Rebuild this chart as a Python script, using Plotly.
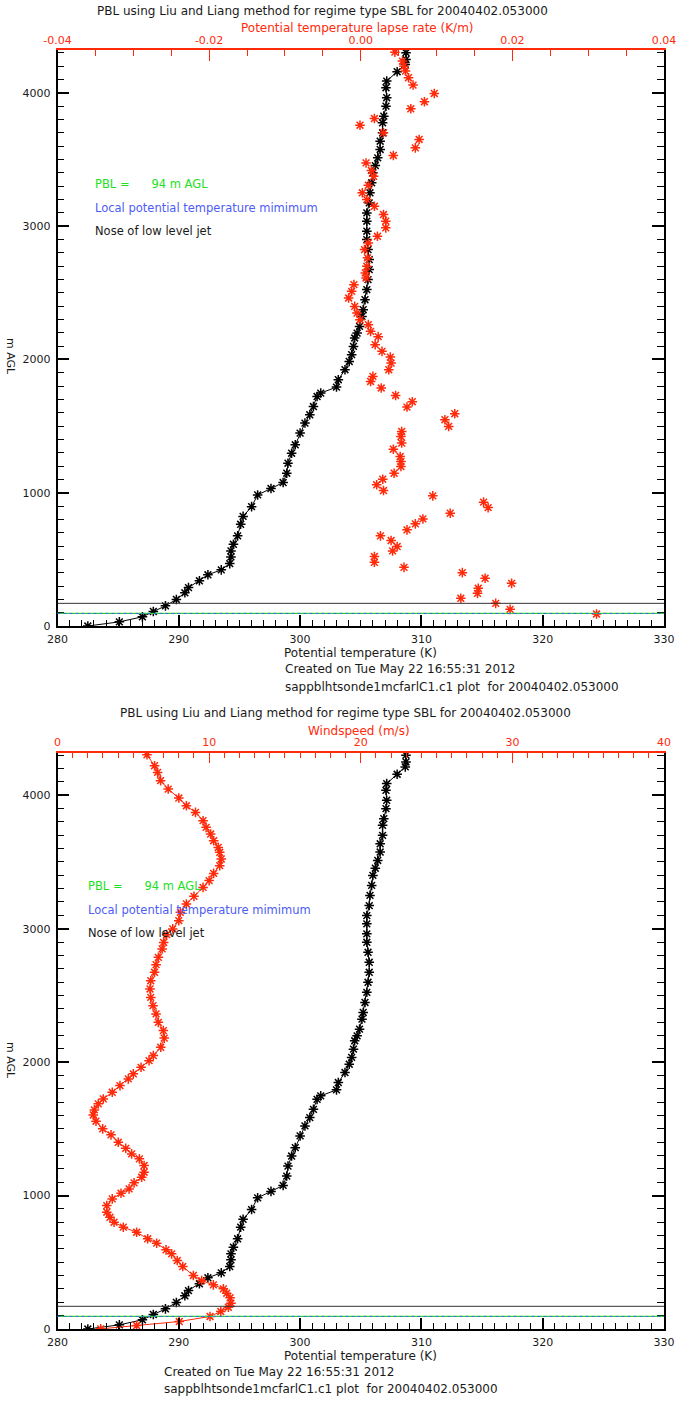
import plotly.graph_objects as go

# ---- Sounding profile: potential temperature (K) vs height (m AGL) ----
height_m = [0, 31, 69, 109, 151, 199, 249, 288, 339, 384, 421, 468, 518, 563, 613,
            676, 763, 822, 895, 983, 1031, 1076, 1146, 1221, 1296, 1359, 1447, 1522,
            1584, 1646, 1721, 1747, 1792, 1847, 1922, 1984, 2035, 2097, 2160, 2197,
            2247, 2322, 2372, 2447, 2523, 2598, 2673, 2748, 2823, 2898, 2961, 3036,
            3098, 3173, 3249, 3324, 3399, 3453, 3511, 3574, 3636, 3699, 3774, 3824,
            3899, 3962, 4037, 4087, 4157, 4212, 4249, 4300]
theta_k = [282.5, 285.1, 287.0, 287.9, 288.9, 289.8, 290.5, 290.8, 291.7, 292.4, 293.5,
           294.2, 294.3, 294.3, 294.5, 294.85, 295.1, 295.3, 296.0, 296.5, 297.6, 298.6,
           298.9, 299.0, 299.3, 299.6, 300.0, 300.4, 300.8, 301.1, 301.4, 301.7, 303.0,
           303.15, 303.7, 304.05, 304.25, 304.4, 304.5, 304.7, 304.9, 305.1, 305.2,
           305.35, 305.5, 305.6, 305.7, 305.7, 305.6, 305.5, 305.5, 305.5, 305.5, 305.7,
           305.76, 305.9, 306.0, 306.2, 306.4, 306.6, 306.6, 306.8, 306.8, 306.9, 307.08,
           307.14, 307.08, 307.14, 308.0, 308.67, 308.73, 308.73]

# ---- Potential temperature lapse rate (K/m) ----
lapse_height_m = [4304, 4237, 4199, 4162, 4112, 4057, 3994, 3932, 3879, 3806, 3756, 3699,
                  3649, 3586, 3529, 3473, 3416, 3373, 3306, 3249, 3198, 3148, 3086, 3036,
                  2986, 2923, 2873, 2823, 2761, 2698, 2648, 2610, 2560, 2510, 2460, 2397,
                  2347, 2297, 2260, 2210, 2170, 2110, 2060, 2017, 1972, 1922, 1872, 1834,
                  1785, 1729, 1682, 1642, 1592, 1547, 1497, 1459, 1421, 1372, 1326, 1271,
                  1233, 1196, 1146, 1101, 1059, 1016, 976, 929, 888, 846, 803, 766, 721,
                  676, 641, 596, 563, 521, 478, 440, 400, 358, 320, 283, 245, 208, 170,
                  125, 90]
lapse_rate = [0.0045, 0.0055, 0.0057, 0.0059, 0.0063, 0.0069, 0.0097, 0.0084, 0.0066,
              0.0018, -0.0001, 0.0030, 0.0077, 0.0072, 0.0043, 0.0007, 0.0014, 0.0017,
              0.0010, 0.0002, 0.0008, 0.0018, 0.0030, 0.0033, 0.0033, 0.0022, 0.0010,
              0.0005, 0.0009, 0.0008, 0.0006, 0.0007, -0.0009, -0.0012, -0.0016, -0.0008,
              -0.0005, -0.0001, 0.0010, 0.0013, 0.0023, 0.0019, 0.0028, 0.0039, 0.0040,
              0.0037, 0.0016, 0.0013, 0.0027, 0.0046, 0.0068, 0.0061, 0.0124, 0.0111,
              0.0116, 0.0054, 0.0053, 0.0054, 0.0043, 0.0052, 0.0053, 0.0053, 0.0044,
              0.0029, 0.0021, 0.0030, 0.0095, 0.0162, 0.0168, 0.0118, 0.0082, 0.0072,
              0.0061, 0.0026, 0.0040, 0.0048, 0.0042, 0.0018, 0.0018, 0.0057, 0.0134,
              0.0164, 0.0199, 0.0155, 0.0154, 0.0132, 0.0178, 0.0197, 0.0311]

# ---- Wind speed (m/s) ----
wind_height_m = [4303, 4221, 4171, 4109, 4046, 3979, 3921, 3871, 3809, 3759, 3709, 3659,
                 3609, 3572, 3522, 3472, 3414, 3360, 3309, 3242, 3185, 3122, 3060, 2998,
                 2955, 2897, 2848, 2785, 2730, 2673, 2610, 2548, 2485, 2423, 2361, 2298,
                 2236, 2180, 2111, 2049, 2011, 1961, 1912, 1874, 1824, 1774, 1724, 1687,
                 1642, 1604, 1557, 1500, 1455, 1399, 1354, 1312, 1275, 1225, 1175, 1137,
                 1095, 1050, 1017, 975, 925, 875, 837, 800, 763, 725, 676, 643, 593, 563,
                 513, 468, 401, 363, 331, 301, 268, 234, 193, 163, 131, 94, 56, 26, 1]
wind_speed = [5.9, 6.4, 6.6, 6.8, 7.3, 8.0, 8.5, 9.1, 9.6, 9.8, 10.1, 10.3, 10.6, 10.7,
              10.8, 10.7, 10.3, 10.0, 9.6, 9.0, 8.5, 8.1, 8.0, 7.6, 7.2, 7.0, 6.9, 6.65,
              6.5, 6.4, 6.15, 6.1, 6.15, 6.3, 6.5, 6.65, 6.98, 7.04, 6.81, 6.32, 6.04,
              5.51, 5.0, 4.67, 4.12, 3.61, 3.02, 2.69, 2.43, 2.36, 2.54, 2.98, 3.53, 4.01,
              4.5, 4.89, 5.4, 5.71, 5.71, 5.55, 5.05, 4.72, 4.19, 3.61, 3.25, 3.25, 3.46,
              3.73, 4.34, 5.22, 5.95, 6.54, 7.16, 7.53, 7.9, 8.26, 8.96, 9.51, 10.28,
              10.94, 11.16, 11.38, 11.44, 11.27, 10.77, 10.06, 8.03, 5.22, 2.85]

# Diagnosed heights (m AGL)
pbl_height = 94
ptmin_height = 94
llj_nose_height = 170

# Tick settings
theta_ticks = [280, 290, 300, 310, 320, 330]
lapse_ticks = [-0.04, -0.02, 0.0, 0.02, 0.04]
lapse_ticktext = ["-0.04", "-0.02", "0.00", "0.02", "0.04"]
wind_ticks = [0, 10, 20, 30, 40]
height_ticks = [0, 1000, 2000, 3000, 4000]

TITLE = "PBL using Liu and Liang method for regime type SBL for 20040402.053000"
CREATED = "Created on Tue May 22 16:55:31 2012"
SOURCE = "sappblhtsonde1mcfarlC1.c1 plot\u00a0\u00a0for 20040402.053000"

W, H = 676, 1402
FONT = "DejaVu Sans"
RED = "#ff2a0a"
GREEN = "#22e022"
BLUE = "#4d5cf5"
INK = "#1a1a1a"


def px(x):
    return x / W


def py(y):
    return 1 - y / H


XDOM = [px(57.5), px(664)]
TOP_DOM = [py(626), py(50)]
BOT_DOM = [py(1329), py(752.5)]
YRANGE = [0, 4320]

marker_k = dict(symbol="asterisk-open", size=8, color="black",
                line=dict(color="black", width=1.5))
marker_r = dict(symbol="asterisk-open", size=8, color=RED,
                line=dict(color=RED, width=1.5))

fig = go.Figure()

# Upper panel
fig.add_trace(go.Scatter(x=theta_k, y=height_m, mode="lines+markers",
                         line=dict(color="black", width=1), marker=marker_k,
                         xaxis="x", yaxis="y", showlegend=False))
fig.add_trace(go.Scatter(x=lapse_rate, y=lapse_height_m, mode="markers",
                         marker=marker_r, xaxis="x2", yaxis="y", showlegend=False))

# Lower panel
fig.add_trace(go.Scatter(x=theta_k, y=height_m, mode="lines+markers",
                         line=dict(color="black", width=1), marker=marker_k,
                         xaxis="x3", yaxis="y2", showlegend=False))
fig.add_trace(go.Scatter(x=wind_speed, y=wind_height_m, mode="lines+markers",
                         line=dict(color=RED, width=1), marker=marker_r,
                         xaxis="x4", yaxis="y2", showlegend=False))

tickfont = dict(family=FONT, size=11, color=INK)
redfont = dict(family=FONT, size=11, color=RED)


def bottom_axis(anchor):
    return dict(domain=XDOM, anchor=anchor, range=[280, 330], tickvals=theta_ticks,
                ticks="inside", ticklen=11, tickwidth=2, tickcolor="black",
                minor=dict(dtick=1, ticks="inside", ticklen=6, tickwidth=1,
                           tickcolor="black"),
                showline=True, linecolor="black", linewidth=1.5, mirror=False,
                showgrid=False, zeroline=False, tickfont=tickfont,
                ticklabelstandoff=2, ticklabeloverflow="allow", automargin=False)


def top_axis(overlay, anchor, rng, vals, text, minor_dtick):
    return dict(domain=XDOM, overlaying=overlay, anchor=anchor, side="top",
                range=rng, tickvals=vals, ticktext=text,
                ticks="inside", ticklen=11, tickwidth=1, tickcolor=RED,
                minor=dict(dtick=minor_dtick, ticks="inside", ticklen=6,
                           tickwidth=1, tickcolor=RED),
                showline=True, linecolor=RED, linewidth=1.5,
                showgrid=False, zeroline=False, tickfont=redfont,
                ticklabelstandoff=0, ticklabeloverflow="allow", automargin=False)


def height_axis(anchor, dom):
    return dict(domain=dom, anchor=anchor, range=YRANGE, tickvals=height_ticks,
                ticks="inside", ticklen=12, tickwidth=1.5, tickcolor="black",
                minor=dict(dtick=100, ticks="inside", ticklen=7, tickwidth=1,
                           tickcolor="black"),
                showline=True, linecolor="black", linewidth=1.5, mirror="ticks",
                showgrid=False, zeroline=False, tickfont=tickfont,
                ticklabelstandoff=3, automargin=False)


fig.update_layout(
    width=W, height=H, autosize=False,
    margin=dict(l=0, r=0, t=0, b=0, pad=0, autoexpand=False),
    paper_bgcolor="white", plot_bgcolor="white",
    font=dict(family=FONT, size=11, color=INK),
    xaxis=bottom_axis("y"),
    xaxis2=top_axis("x", "y", [-0.04, 0.04], lapse_ticks, lapse_ticktext, 0.005),
    xaxis3=bottom_axis("y2"),
    xaxis4=top_axis("x3", "y2", [0, 40], wind_ticks, [str(v) for v in wind_ticks], 1),
    yaxis=height_axis("x", TOP_DOM),
    yaxis2=height_axis("x3", BOT_DOM),
)

# Diagnosed-height reference lines across each panel
for xr, yr in (("x domain", "y"), ("x3 domain", "y2")):
    fig.add_shape(type="line", xref=xr, yref=yr, x0=0, x1=1,
                  y0=llj_nose_height, y1=llj_nose_height,
                  line=dict(color="#333333", width=1))
    fig.add_shape(type="line", xref=xr, yref=yr, x0=0, x1=1,
                  y0=pbl_height, y1=pbl_height,
                  line=dict(color="#22e022", width=1.2))
    fig.add_shape(type="line", xref=xr, yref=yr, x0=0, x1=1,
                  y0=ptmin_height, y1=ptmin_height,
                  line=dict(color=BLUE, width=1, dash="dot"))


def label(text, x, y, color=INK, xanchor="center", angle=0, size=12):
    fig.add_annotation(text=text, x=px(x), y=py(y), xref="paper", yref="paper",
                       xanchor=xanchor, yanchor="middle", showarrow=False,
                       textangle=angle, borderpad=0,
                       font=dict(family=FONT, size=size, color=color))


NBSP = "\u00a0"
pbl_text = f"PBL ={NBSP * 6}{pbl_height} m AGL"

# Upper panel text
label(TITLE, 322, 11)
label("Potential temperature lapse rate (K/m)", 357, 28, RED)
label("Potential temperature (K)", 360, 653)
label(CREATED, 284, 669, xanchor="left")
label(SOURCE, 284, 687, xanchor="left")
label("m AGL", 11, 356, angle=90, size=11)
label(pbl_text, 94, 184, GREEN, xanchor="left", size=11.5)
label("Local potential temperature mimimum", 94, 208, BLUE, xanchor="left", size=11.5)
label("Nose of low level jet", 94, 231, INK, xanchor="left", size=11.5)

# Lower panel text
label(TITLE, 345, 713)
label("Windspeed (m/s)", 359, 731, RED)
label("Potential temperature (K)", 360, 1356)
label(CREATED, 163, 1372, xanchor="left")
label(SOURCE, 163, 1389, xanchor="left")
label("m AGL", 11, 1060, angle=90, size=11)
label(pbl_text, 87, 886, GREEN, xanchor="left", size=11.5)
label("Local potential temperature mimimum", 87, 910, BLUE, xanchor="left", size=11.5)
label("Nose of low level jet", 87, 933, INK, xanchor="left", size=11.5)

fig.write_html("out.html")
